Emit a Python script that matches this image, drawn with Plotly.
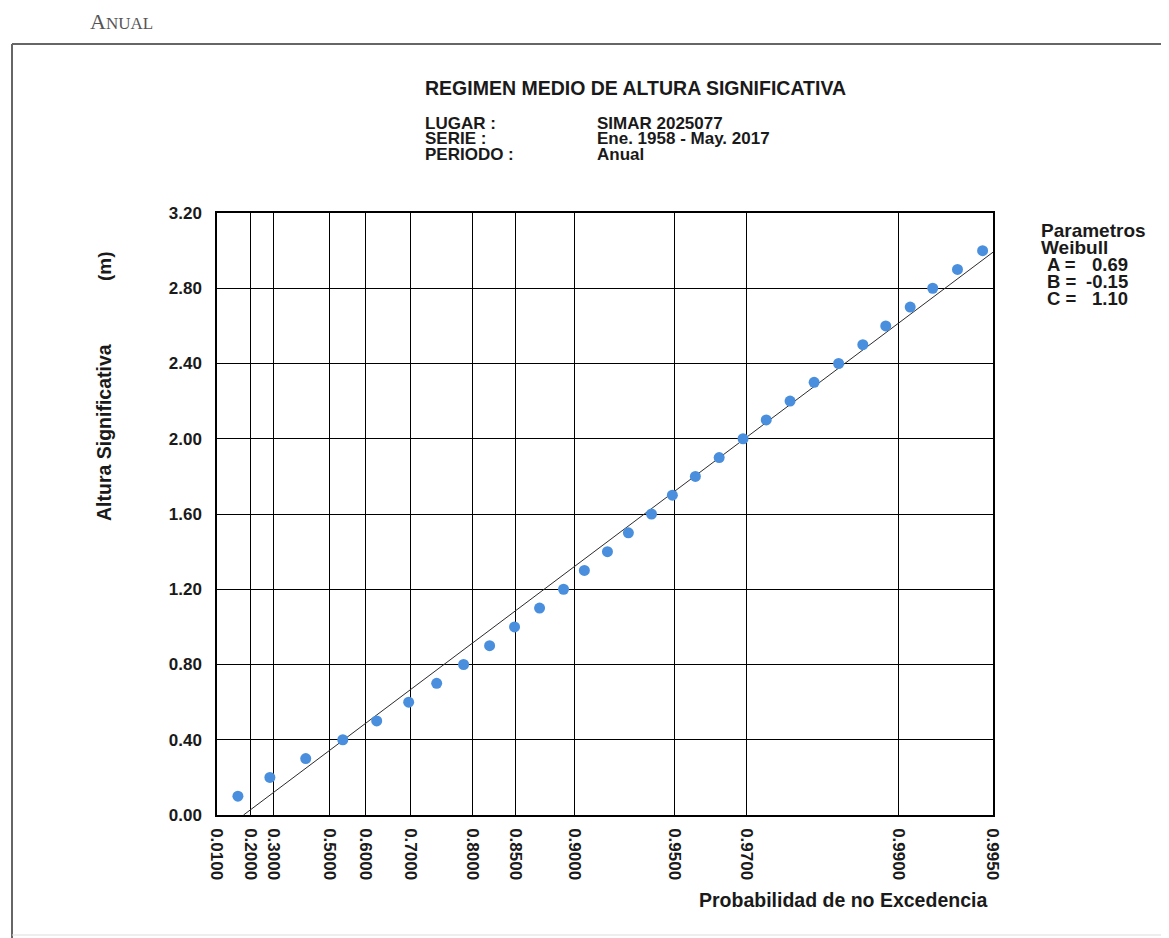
import numpy as np
import plotly.graph_objects as go

# Weibull parameters shown on the chart
PARAM_A = 0.69
PARAM_B = -0.15
PARAM_C = 1.10

# Significant wave height (m) and empirical non-exceedance probability
hs = [0.1, 0.2, 0.3, 0.4, 0.5, 0.6, 0.7, 0.8, 0.9, 1.0,
      1.1, 1.2, 1.3, 1.4, 1.5, 1.6, 1.7, 1.8, 1.9, 2.0,
      2.1, 2.2, 2.3, 2.4, 2.5, 2.6, 2.7, 2.8, 2.9, 3.0]
prob = [0.1447, 0.2846, 0.4210, 0.5386, 0.6272, 0.6963, 0.7469, 0.7880, 0.8217, 0.8492,
        0.8727, 0.8919, 0.9063, 0.9201, 0.9309, 0.9412, 0.9492, 0.9568, 0.9635, 0.9692,
        0.9739, 0.9780, 0.9815, 0.9845, 0.9870, 0.9890, 0.9908, 0.9922, 0.9935, 0.9946]

# x-axis tick labels (probability scale)
first_tick_label = "0.0100"
tick_probs = [0.20, 0.30, 0.50, 0.60, 0.70, 0.80, 0.85, 0.90, 0.95, 0.97, 0.99, 0.995]
tick_labels = ["0.2000", "0.3000", "0.5000", "0.6000", "0.7000", "0.8000", "0.8500",
               "0.9000", "0.9500", "0.9700", "0.9900", "0.9950"]
y_ticks = [0.0, 0.4, 0.8, 1.2, 1.6, 2.0, 2.4, 2.8, 3.2]


def wscale(p):
    p = np.asarray(p, dtype=float)
    return (-np.log(1.0 - p)) ** (1.0 / PARAM_C)


X_LEFT = 0.064
X_RIGHT = float(wscale(0.995))

# page body has an 8px margin
OFF = 8
W, H = 1169 - OFF, 938 - OFF
PL, PT, PR, PB = 217, 213, 993, 815          # plot box in page pixels
ML, MT = PL - OFF, PT - OFF
PW, PH = PR - PL, PB - PT
MR, MB = W - ML - PW, H - MT - PH


def px(x):
    return (x - PL) / PW


def py(y):
    return (PB - y) / PH


FONT = "Liberation Sans, Arial, Helvetica, sans-serif"
TXT = "#1a1a1a"

fig = go.Figure()

# fitted Weibull line
t_line = np.array([-PARAM_B / PARAM_A, X_RIGHT])
fig.add_trace(go.Scatter(
    x=t_line, y=PARAM_B + PARAM_A * t_line, mode="lines",
    line=dict(color="#2b2b2b", width=1), hoverinfo="skip", showlegend=False))

# data points
fig.add_trace(go.Scatter(
    x=wscale(prob), y=hs, mode="markers",
    marker=dict(color="#4a8fde", size=11, line=dict(width=0)),
    showlegend=False))

tickvals = [X_LEFT] + list(wscale(tick_probs))
ticktext = [first_tick_label] + tick_labels

fig.update_xaxes(
    range=[X_LEFT, X_RIGHT], tickmode="array", tickvals=tickvals, ticktext=ticktext,
    tickangle=90, showgrid=True, gridcolor="#000", gridwidth=1,
    showline=True, linecolor="#000", linewidth=1.5, mirror=True, zeroline=False,
    ticks="", ticklabelstandoff=8,
    tickfont=dict(family=FONT, size=17, color=TXT, weight="bold"))
fig.update_yaxes(
    range=[0, 3.2], tickmode="array", tickvals=y_ticks,
    ticktext=[f"{v:.2f}" for v in y_ticks],
    showgrid=True, gridcolor="#000", gridwidth=1,
    showline=True, linecolor="#000", linewidth=1.5, mirror=True, zeroline=False,
    ticks="", ticklabelstandoff=10,
    tickfont=dict(family=FONT, size=17, color=TXT, weight="bold"))

ann = []


def text(x, y, s, size, xanchor="left", angle=0, bold=True, family=FONT, color=TXT):
    ann.append(dict(x=px(x), y=py(y), xref="paper", yref="paper", text=s,
                    showarrow=False, xanchor=xanchor, yanchor="middle", textangle=angle,
                    borderpad=0,
                    font=dict(family=family, size=size, color=color,
                              weight="bold" if bold else "normal")))


text(424, 88, "REGIMEN MEDIO DE ALTURA SIGNIFICATIVA", 19.5)
text(424, 123, "LUGAR :", 17)
text(424, 138.5, "SERIE :", 17)
text(424, 154, "PERIODO :", 17)
text(596, 123, "SIMAR 2025077", 17)
text(596, 138.5, "Ene. 1958 - May. 2017", 17)
text(596, 154, "Anual", 17)

text(1040, 230, "Parametros", 19)
text(1040, 247, "Weibull", 19)
text(1046, 264.5, "A =", 18.5)
text(1129, 264.5, f"{PARAM_A:.2f}", 18.5, xanchor="right")
text(1046, 281.5, "B =", 18.5)
text(1129, 281.5, f"{PARAM_B:.2f}", 18.5, xanchor="right")
text(1046, 298.5, "C =", 18.5)
text(1129, 298.5, f"{PARAM_C:.2f}", 18.5, xanchor="right")

text(104, 432, "Altura Significativa", 19.5, xanchor="center", angle=-90)
text(104, 266, "(m)", 19, xanchor="center", angle=-90)
text(988, 900, "Probabilidad de no Excedencia", 19.5, xanchor="right")

text(89, 22, "A<span style='font-size:17px'>NUAL</span>", 22, bold=False,
     family="Liberation Serif, DejaVu Serif, serif", color="#555")

shapes = [
    dict(type="line", xref="paper", yref="paper", x0=px(12), x1=px(1175), y0=py(44), y1=py(44),
         line=dict(color="#666", width=2)),
    dict(type="line", xref="paper", yref="paper", x0=px(12), x1=px(12), y0=py(44), y1=py(940),
         line=dict(color="#666", width=2)),
    dict(type="line", xref="paper", yref="paper", x0=px(12), x1=px(1175), y0=py(935), y1=py(935),
         line=dict(color="#ddd", width=1)),
]

fig.update_layout(
    width=W, height=H, autosize=False,
    margin=dict(l=ML, r=MR, t=MT, b=MB),
    paper_bgcolor="white", plot_bgcolor="white",
    annotations=ann, shapes=shapes, showlegend=False)

fig.write_html("out.html")
